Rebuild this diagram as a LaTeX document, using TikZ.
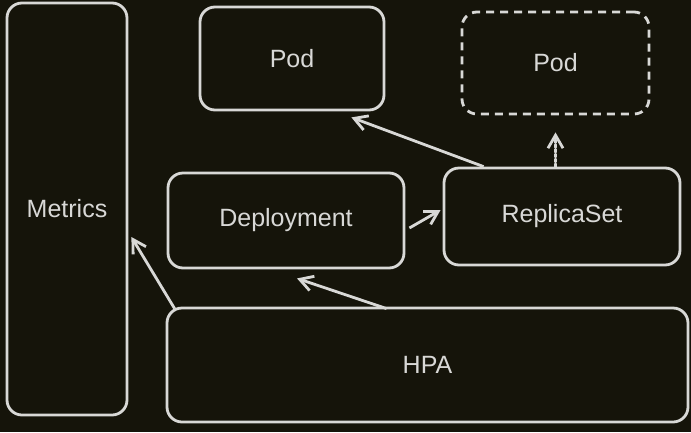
\documentclass[tikz,border=0pt]{standalone}
\usepackage{fontspec}
\setmainfont{Liberation Sans}
\usetikzlibrary{arrows.meta,positioning,calc}
\definecolor{bg}{HTML}{15140A}
\definecolor{fg}{HTML}{D8D8D6}
\tikzset{box/.style={draw=fg, line width=2.8pt, rounded corners=15pt, text=fg, font=\fontsize{25}{29}\selectfont, inner sep=0pt}, arr/.style={draw=fg, line width=2.8pt, -{Straight Barb[length=13pt,width=15pt,line width=2.8pt]}}, x=1pt, y=-1pt}

\begin{document}
\begin{tikzpicture}
    \fill[bg] (0,0) rectangle (691,432);
    \useasboundingbox (0,0) rectangle (691,432);
    \node[box,minimum width=120pt,minimum height=412pt] (Met) at (67,209) {Metrics};
    \node[box,minimum width=184pt,minimum height=103pt] (Pod1) at (292,58.5) {Pod};
    \node[box,dashed,dash pattern=on 8pt off 6pt,minimum width=187pt,minimum height=102pt] (Pod2) at (555.5,63) {Pod};
    \node[box,minimum width=236pt,minimum height=95pt] (Dep) at (286,220.5) {Deployment};
    \node[box,minimum width=236pt,minimum height=97pt] (RS) at (562,216.5) {ReplicaSet};
    \node[box,minimum width=521pt,minimum height=114pt] (HPA) at (427.5,365) {HPA};
    \draw[arr] ([xshift=41pt]RS.north west) -- ([xshift=-34pt,yshift=-6pt]Pod1.south east);
    \draw[arr] ([xshift=4pt,yshift=-7.5pt]Dep.east) -- ([xshift=-2pt,yshift=6.5pt]RS.west);
    \draw[arr,dotted,line cap=round] (RS.north -| Pod2.south) -- ([yshift=-17pt]Pod2.south);
    \draw[arr] ([xshift=221pt,yshift=-2pt]HPA.north west) -- ([xshift=11pt,yshift=-9pt]Dep.south);
    \draw[arr] ([xshift=9pt,yshift=-2pt]HPA.north west) -- ([xshift=3pt,yshift=-28pt]Met.east);
\end{tikzpicture}
\end{document}
